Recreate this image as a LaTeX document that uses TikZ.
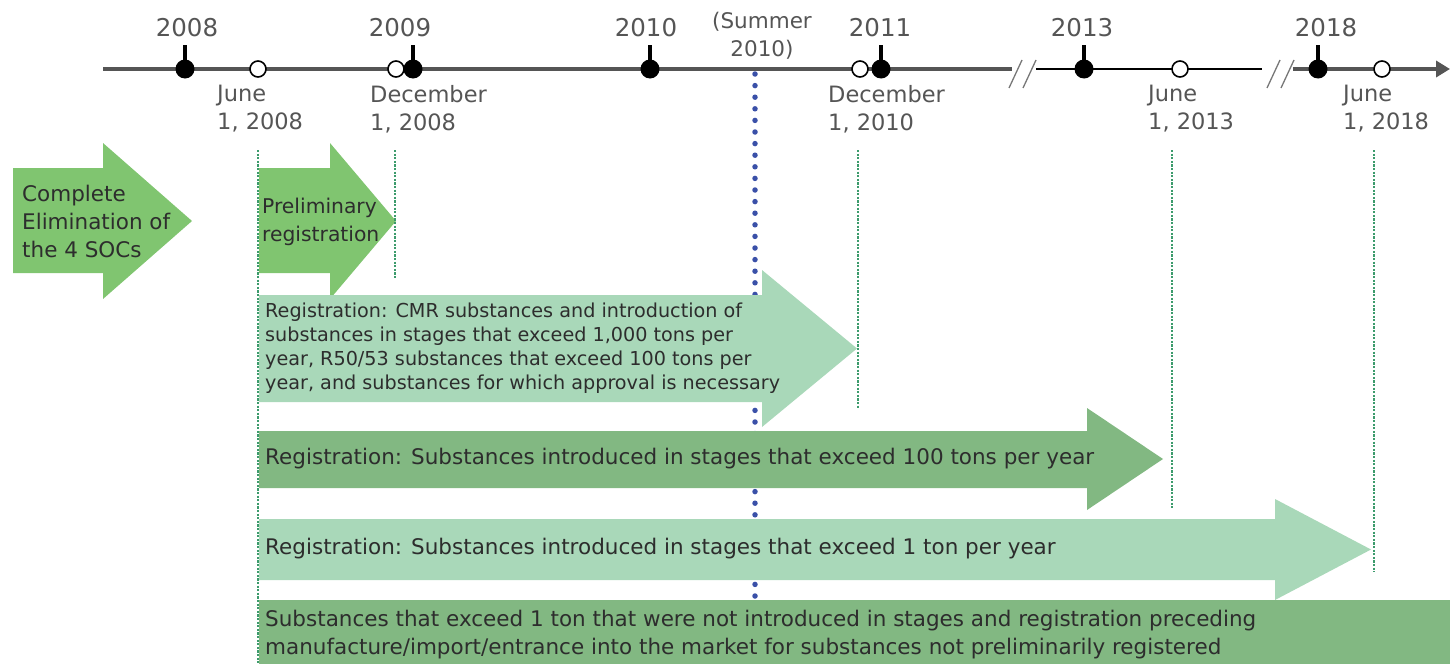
\documentclass[tikz,border=0pt]{standalone}
\usepackage{fontspec}
\setmainfont{DejaVu Sans}
\usepackage{xcolor}
\usepackage{tikz}
\usetikzlibrary{arrows.meta, calc, positioning}

\definecolor{leafgreen}{RGB}{128,197,112}
\definecolor{mintgreen}{RGB}{169,216,185}
\definecolor{sagegreen}{RGB}{130,184,130}
\definecolor{guidegreen}{RGB}{60,155,108}
\definecolor{summerblue}{RGB}{58,80,168}
\definecolor{axisgray}{RGB}{85,85,85}
\definecolor{inkgray}{RGB}{45,45,45}

% colour, left, neck, tip, body top, body bottom, head top, head bottom
\newcommand{\phasearrow}[8]{%
  \fill[#1] (#2,#5) -- (#3,#5) -- (#3,#7) -- (#4,{(#7+#8)/2}) -- (#3,#8) -- (#3,#6) -- (#2,#6) -- cycle;
}

\tikzset{
  axis/.style={draw=axisgray, line width=4pt},
  breakmark/.style={draw=axisgray!80, line width=1.3pt},
  yeardot/.style={circle, fill=black, inner sep=0pt, minimum size=19pt},
  datedot/.style={circle, draw=black, fill=white, line width=1.6pt, inner sep=0pt, minimum size=16pt},
  stem/.style={draw=black, line width=4.5pt},
  yearlabel/.style={text=axisgray, font=\fontsize{24.5}{28}\selectfont, inner sep=0pt},
  datelabel/.style={text=axisgray, font=\fontsize{22.5}{28}\selectfont, inner sep=0pt, align=left, anchor=west},
  phasetext/.style={text=inkgray, font=\fontsize{21.5}{28}\selectfont, align=left, anchor=west, inner sep=0pt},
  guide/.style={draw=guidegreen, line width=2.6pt, dash pattern=on 2.2pt off 1.4pt},
  summer/.style={draw=summerblue, line width=5.5pt, line cap=round, dash pattern=on 0pt off 11.6pt},
}

\begin{document}
\begin{tikzpicture}[x=1pt, y=-1pt]
  \useasboundingbox (0,0) rectangle (1450,664);

  % summer 2010, behind the bars
  \coordinate (summer top) at (755,74);
  \coordinate (summer end) at (755,664);
  \draw[summer] (summer top) -- (summer end);

  % phases
  \phasearrow{leafgreen}{13}{103}{192}{168}{273}{143}{299}
  \phasearrow{leafgreen}{259}{330}{396}{168}{273}{143}{299}
  \phasearrow{mintgreen}{259}{762}{857}{295}{402}{270}{427}
  \phasearrow{sagegreen}{259}{1087}{1163}{431}{488}{408}{510}
  \phasearrow{mintgreen}{259}{1275}{1371}{519}{580}{499}{600}
  \fill[sagegreen] (259,600) rectangle (1450,664);

  \node[phasetext] (socs) at (22,221) {Complete\\Elimination of\\the 4 SOCs};
  \node[phasetext, font=\fontsize{20.3}{28}\selectfont] (prereg) at (262,222) {Preliminary\\registration};
  \node[phasetext, font=\fontsize{19.2}{24}\selectfont] (cmr) at (265,348)
    {Registration: CMR substances and introduction of\\
     substances in stages that exceed 1,000 tons per\\
     year, R50/53 substances that exceed 100 tons per\\
     year, and substances for which approval is necessary};
  \node[phasetext] (reg100) at (265,459)
    {Registration: Substances introduced in stages that exceed 100 tons per year};
  \node[phasetext] (reg1) at (265,549)
    {Registration: Substances introduced in stages that exceed 1 ton per year};
  \node[phasetext] (nonphase) at (265,635)
    {Substances that exceed 1 ton that were not introduced in stages and registration preceding\\
     manufacture/import/entrance into the market for substances not preliminarily registered};

  % deadlines
  \foreach \gx/\gy in {258/664, 395/278, 858/408, 1172/508, 1374/572}
    \draw[guide] (\gx,150) -- (\gx,\gy);

  % time axis
  \draw[axis] (103,69) -- (1012,69);
  \draw[draw=black, line width=1.5pt] (1036,69) -- (1262,69);
  \draw[axis, -{Triangle[length=14pt, width=16pt]}] (1293,69) -- (1450,69);
  \foreach \bx in {1009,1023,1267,1281}
    \draw[breakmark] (\bx,88) -- ++(13,-28);

  \foreach \dn/\dx in {jun08/258, dec08/396, dec10/860, jun13/1180, jun18/1382}
    \node[datedot] (\dn) at (\dx,69) {};
  \foreach \yr/\yx in {2008/185, 2009/413, 2010/650, 2011/881, 2013/1084, 2018/1318} {
    \draw[stem] (\yx,69) -- (\yx,45);
    \node[yeardot] (y\yr) at (\yx,69) {};
  }

  % labels
  \node[yearlabel] (l2008) at (187,28) {2008};
  \node[yearlabel] (l2009) at (400,28) {2009};
  \node[yearlabel] (l2010) at (646,28) {2010};
  \node[yearlabel] (l2011) at (880,28) {2011};
  \node[yearlabel] (l2013) at (1082,28) {2013};
  \node[yearlabel] (l2018) at (1326,28) {2018};
  \node[yearlabel, font=\fontsize{21.5}{28}\selectfont, align=center] (lsummer) at (762,36) {(Summer\\2010)};

  \node[datelabel] (ljun08) at (217,109) {June\\1, 2008};
  \node[datelabel] (ldec08) at (370,109) {December\\1, 2008};
  \node[datelabel] (ldec10) at (828,109) {December\\1, 2010};
  \node[datelabel] (ljun13) at (1148,109) {June\\1, 2013};
  \node[datelabel] (ljun18) at (1343,109) {June\\1, 2018};
\end{tikzpicture}
\end{document}
